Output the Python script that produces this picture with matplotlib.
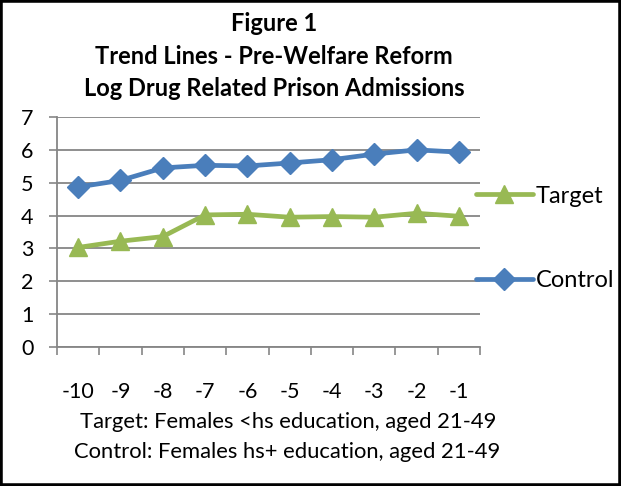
import matplotlib
matplotlib.use("Agg")
import matplotlib.pyplot as plt
from matplotlib.patches import Rectangle

plt.rcParams["font.family"] = ["Lato", "DejaVu Sans"]

anos = ["-10", "-9", "-8", "-7", "-6", "-5", "-4", "-3", "-2", "-1"]
control = [4.87, 5.07, 5.45, 5.53, 5.51, 5.60, 5.70, 5.87, 6.00, 5.93]
target = [3.03, 3.22, 3.36, 4.02, 4.04, 3.95, 3.97, 3.95, 4.07, 3.98]
yticks = [0, 1, 2, 3, 4, 5, 6, 7]

azul = "#4A7EBB"
verde = "#98B954"
cinza = "#868686"

fig = plt.figure(figsize=(6.21, 4.86), dpi=100)
ax = fig.add_axes([57 / 621, 1 - 347 / 486, (480 - 57) / 621, (347 - 117) / 486])

x = list(range(len(anos)))
ax.plot(x, target, color=verde, linewidth=3.4, marker="^", markersize=13,
        label="Target", solid_capstyle="round")
ax.plot(x, control, color=azul, linewidth=3.4, marker="D", markersize=11,
        label="Control", solid_capstyle="round")

ax.set_xlim(-0.5, len(anos) - 0.5)
ax.set_ylim(0, 7)
ax.set_yticks(yticks)
ax.set_yticklabels([str(v) for v in yticks], fontsize=15.5)
ax.set_xticks([i - 0.5 for i in range(len(anos) + 1)])
ax.set_xticklabels([])
ax.set_xticks(x, minor=True)
ax.set_xticklabels(anos, minor=True, fontsize=15.5)
ax.tick_params(axis="x", which="minor", length=0, pad=25)
ax.tick_params(axis="x", which="major", length=6, width=1.2, color=cinza)
ax.tick_params(axis="y", length=6, width=1.2, color=cinza, pad=11)

# Grade horizontal como no Excel
ax.grid(True, axis="y", color=cinza, linewidth=1.3)
ax.set_axisbelow(True)
for lado in ["top", "right"]:
    ax.spines[lado].set_visible(False)
for lado in ["left", "bottom"]:
    ax.spines[lado].set_color(cinza)
    ax.spines[lado].set_linewidth(1.3)

leg = ax.legend(loc="center left", bbox_to_anchor=(0.968, 0.472), frameon=False,
                fontsize=17, handlelength=2.4, handletextpad=0.12,
                labelspacing=2.7, borderaxespad=0)

# Titulo em tres linhas
titulos = ["Figure 1", "Trend Lines - Pre-Welfare Reform",
           "Log Drug Related Prison Admissions"]
for linha, base in zip(titulos, [31, 63.5, 96]):
    fig.text(274 / 621, 1 - base / 486, linha, ha="center", va="baseline",
             fontsize=17, fontweight="bold")

fig.text(288 / 621, 1 - 428 / 486, "Target: Females <hs education, aged 21-49",
         ha="center", va="baseline", fontsize=15.8)
fig.text(287 / 621, 1 - 458 / 486, "Control: Females hs+ education, aged 21-49",
         ha="center", va="baseline", fontsize=15.8)

fig.patches.append(Rectangle((0, 0), 1, 1, transform=fig.transFigure,
                             fill=False, edgecolor="black", linewidth=4))

fig.savefig("out.png", dpi=100)
plt.close(fig)
